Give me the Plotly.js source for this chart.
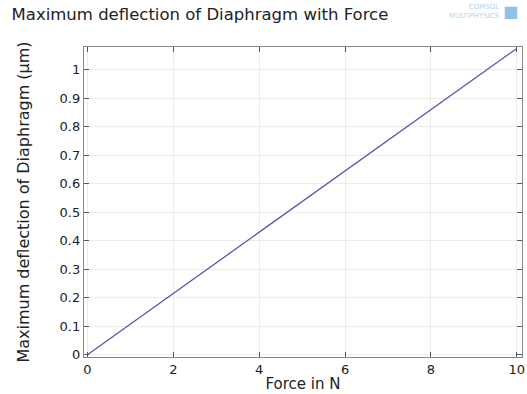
<!DOCTYPE html>
<html><head><meta charset="utf-8">
<script src="https://cdn.plot.ly/plotly-3.0.1.min.js"></script>
<style>body{margin:0;background:#fff}#c{width:527px;height:394px}</style>
</head><body><div id="c"></div>
<script>
const force = [0, 1, 2, 3, 4, 5, 6, 7, 8, 9, 10];
const deflection = [0, 0.1075, 0.215, 0.3225, 0.43, 0.5375, 0.645, 0.7525, 0.86, 0.9675, 1.075];
const yTicks = [0, 0.1, 0.2, 0.3, 0.4, 0.5, 0.6, 0.7, 0.8, 0.9, 1];
const yTickLabels = ['0', '0.1', '0.2', '0.3', '0.4', '0.5', '0.6', '0.7', '0.8', '0.9', '1'];
const xTicks = [0, 2, 4, 6, 8, 10];

const font = 'DejaVu Sans, sans-serif';
Plotly.newPlot('c', [{
  x: force, y: deflection, type: 'scatter', mode: 'lines',
  line: {color: '#5a55b5', width: 1.3}, hoverinfo: 'none'
}], {
  width: 527, height: 394,
  margin: {l: 84, r: 5, t: 47, b: 37},
  paper_bgcolor: '#fff', plot_bgcolor: '#fff',
  showlegend: false,
  title: {text: 'Maximum deflection of Diaphragm with Force', x: 0.022, xanchor: 'left', y: 0.963, yanchor: 'middle',
          font: {family: font, size: 16.5, color: '#222'}},
  xaxis: {
    range: [-0.08, 10.12], tickvals: xTicks, ticktext: xTicks.map(String),
    ticks: 'inside', ticklen: 5, tickcolor: '#555', mirror: 'ticks',
    showline: true, linecolor: '#888', linewidth: 1.2,
    showgrid: true, gridcolor: '#ececec', zeroline: false,
    tickfont: {family: font, size: 13, color: '#222'},
    title: {text: 'Force in N', font: {family: font, size: 15, color: '#222'}, standoff: 2}
  },
  yaxis: {
    range: [-0.008, 1.08], tickvals: yTicks, ticktext: yTickLabels,
    ticks: 'inside', ticklen: 5, tickcolor: '#555', mirror: 'ticks',
    showline: true, linecolor: '#888', linewidth: 1.2,
    showgrid: true, gridcolor: '#ececec', zeroline: false,
    tickfont: {family: font, size: 13, color: '#222'},
    title: {text: 'Maximum deflection of Diaphragm (μm)', font: {family: font, size: 16, color: '#222'}, standoff: 26}
  },
  annotations: [{
    xref: 'paper', yref: 'paper', x: 0.955, y: 1.115, xanchor: 'right', yanchor: 'middle',
    text: 'COMSOL<br>MULTIPHYSICS', showarrow: false, align: 'right',
    font: {family: font, size: 7, color: '#b5d3ea'}
  }, {
    xref: 'paper', yref: 'paper', x: 0.995, y: 1.115, xanchor: 'right', yanchor: 'middle',
    text: '■', showarrow: false, font: {family: font, size: 16, color: '#8fc3e6'}
  }]
}, {displayModeBar: false, staticPlot: true});
</script></body></html>
